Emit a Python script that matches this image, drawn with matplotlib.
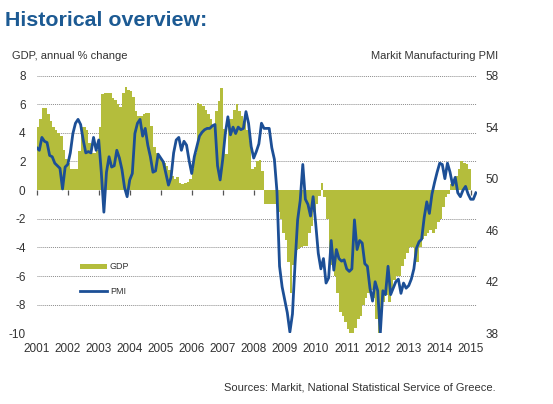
import numpy as np
import matplotlib.pyplot as plt

plt.rcParams['font.family'] = ['Liberation Sans', 'DejaVu Sans']
plt.rcParams['axes.unicode_minus'] = False

# GDP, annual % change (monthly steps, Jan 2001 - Dec 2014)
gdp = [
    4.4, 5.0, 5.7, 5.7, 5.3, 4.8, 4.4, 4.2, 4.0, 3.8, 2.8, 2.2,          # 2001
    1.9, 1.5, 1.5, 1.5, 2.7, 4.4, 4.4, 4.2, 3.3, 2.6, 2.6, 2.8,          # 2002
    4.4, 6.7, 6.8, 6.8, 6.8, 6.4, 6.3, 6.0, 5.8, 6.8, 7.2, 7.0,          # 2003
    6.9, 6.5, 5.5, 5.2, 5.2, 5.3, 5.4, 5.4, 4.5, 3.0, 2.6, 2.3,          # 2004
    2.0, 1.9, 1.7, 1.4, 1.0, 0.8, 0.9, 0.5, 0.4, 0.5, 0.6, 0.8,          # 2005
    1.5, 2.6, 6.1, 6.0, 5.9, 5.6, 5.3, 5.0, 4.5, 5.5, 6.2, 7.1,          # 2006
    4.3, 2.5, 5.0, 5.0, 5.6, 6.0, 5.5, 5.2, 4.8, 4.2, 3.4, 1.5,          # 2007
    1.6, 2.0, 2.1, 1.3, -1.0, -1.0, -1.0, -1.0, -1.0, -1.5, -2.0, -3.0,  # 2008
    -3.5, -5.0, -7.2, -5.2, -4.2, -4.1, -4.0, -3.9, -3.9, -3.0, -2.5, -1.5,  # 2009
    -1.0, -0.4, 0.5, -0.5, -2.0, -4.5, -5.2, -6.0, -7.2, -8.5, -8.8, -9.2,   # 2010
    -9.7, -10.0, -10.0, -9.6, -9.0, -8.8, -8.0, -7.5, -7.2, -7.0, -7.5, -9.0,  # 2011
    -10.0, -8.5, -7.8, -7.3, -7.8, -7.0, -6.3, -6.0, -6.0, -5.3, -4.8, -4.4,   # 2012
    -4.0, -4.0, -5.0, -5.0, -4.0, -3.4, -3.2, -3.0, -2.8, -3.0, -2.7, -2.2,    # 2013
    -2.0, -1.2, -0.5, -0.3, 0.4, 0.5, 1.0, 1.5, 2.0, 1.9, 1.8, 1.5,            # 2014
]

# Markit Manufacturing PMI (monthly, Jan 2001 - Mar 2015)
pmi = [
    52.4, 52.2, 53.2, 52.9, 52.8, 51.8, 51.7, 51.2, 51.0, 50.8, 49.2, 50.9,  # 2001
    51.1, 52.0, 53.5, 54.3, 54.6, 54.2, 53.0, 52.0, 52.1, 52.0, 53.2, 52.2,  # 2002
    53.0, 50.5, 47.4, 50.5, 51.7, 50.9, 51.0, 52.2, 51.6, 50.7, 49.3, 48.6,  # 2003
    49.9, 50.4, 53.5, 54.3, 54.6, 53.3, 53.9, 52.6, 51.7, 50.5, 50.6, 51.9,  # 2004
    51.6, 51.3, 50.4, 49.5, 50.1, 52.0, 53.0, 53.2, 52.2, 52.9, 52.6, 51.4,  # 2005
    50.4, 51.7, 52.5, 53.3, 53.6, 53.8, 53.9, 53.9, 54.1, 54.2, 51.0, 49.9,  # 2006
    51.5, 53.5, 54.8, 53.4, 54.0, 53.5, 54.0, 53.8, 53.9, 55.2, 54.3, 52.5,  # 2007
    51.6, 52.1, 52.7, 54.3, 53.9, 53.9, 53.9, 52.4, 51.5, 49.0, 43.2, 41.6,  # 2008
    40.6, 39.6, 38.1, 39.5, 43.4, 46.8, 48.3, 51.1, 48.4, 48.0, 47.1, 48.6,  # 2009
    46.5, 44.2, 43.0, 43.8, 41.9, 42.3, 45.2, 42.9, 44.5, 43.8, 43.6, 43.7,  # 2010
    43.0, 42.8, 43.0, 46.8, 44.5, 45.2, 45.0, 43.4, 43.2, 41.5, 40.5, 42.0,  # 2011
    41.3, 38.0, 41.3, 41.0, 43.2, 41.0, 41.5, 42.0, 42.2, 41.1, 41.9, 41.5,  # 2012
    41.7, 42.2, 43.0, 44.6, 45.1, 45.3, 47.0, 48.2, 47.3, 48.8, 49.7, 50.5,  # 2013
    51.2, 51.1, 50.0, 51.2, 50.5, 49.5, 50.1, 48.9, 48.6, 49.1, 49.4, 48.8,  # 2014
    48.4, 48.4, 48.9,                                                        # 2015
]

years = list(range(2001, 2016))
gdp_ticks = list(range(-10, 9, 2))
pmi_ticks = list(range(38, 59, 4))

GREEN = '#b4bd3c'
BLUE = '#1c4f96'
TXT = '#333333'

gdp_x = 2001 + np.arange(len(gdp) + 1) / 12.0
gdp_y = gdp + [gdp[-1]]
pmi_x = 2001 + np.arange(len(pmi)) / 12.0

fig = plt.figure(figsize=(5.53, 4.04), dpi=100)
ax = fig.add_axes([0.0664, 0.175, 0.796, 0.638])

# dotted gridlines (not at zero)
for g in gdp_ticks:
    if g != 0:
        ax.axhline(g, color='#8c8c8c', lw=0.7, ls=(0, (1, 1)), zorder=0)

ax.fill_between(gdp_x, gdp_y, 0, step='post', color=GREEN, lw=0, zorder=1,
                label='GDP')
ax.set_xlim(2001, 2015.2)
ax.set_ylim(-10, 8)
ax.set_yticks(gdp_ticks)
ax.set_xticks(years)
ax.tick_params(axis='both', length=0, labelsize=8.5, colors=TXT)
ax.tick_params(axis='y', pad=8)
ax.tick_params(axis='x', pad=7)
for s in ax.spines.values():
    s.set_visible(False)

# zero line with year ticks
zero = ax.secondary_xaxis(10 / 18)
zero.xaxis.set_ticks_position('bottom')
zero.set_xticks(years)
zero.set_xticklabels([])
zero.tick_params(axis='x', direction='out', length=3.5, width=0.9,
                 color='#555555')
zero.spines['bottom'].set_color('#555555')
zero.spines['bottom'].set_linewidth(1.0)
zero.spines['top'].set_visible(False)

ax2 = ax.twinx()
ax2.plot(pmi_x, pmi, color=BLUE, lw=2.0, zorder=3, label='PMI')
ax2.set_ylim(38, 58)
ax2.set_yticks(pmi_ticks)
ax2.tick_params(axis='y', length=0, labelsize=8.5, colors=TXT, pad=6)
for s in ax2.spines.values():
    s.set_visible(False)

h1, l1 = ax.get_legend_handles_labels()
h2, l2 = ax2.get_legend_handles_labels()
leg = ax2.legend(h1 + h2, l1 + l2, loc='center left', bbox_to_anchor=(0.08, 0.21),
                 frameon=False, fontsize=6.5, handlelength=3.0, handleheight=0.45,
                 labelspacing=1.7, handletextpad=0.3)
for t in leg.get_texts():
    t.set_color(TXT)

fig.text(0.009, 0.95, 'Historical overview:', fontsize=15.4, fontweight='bold',
         color='#1c5a93', va='center', ha='left')
fig.text(0.022, 0.862, 'GDP, annual % change', fontsize=8, color=TXT, va='center')
fig.text(0.90, 0.862, 'Markit Manufacturing PMI', fontsize=8, color=TXT,
         va='center', ha='right')
fig.text(0.897, 0.042, 'Sources: Markit, National Statistical Service of Greece.',
         fontsize=8, color=TXT, va='center', ha='right')

fig.savefig('out.png', dpi=100)
